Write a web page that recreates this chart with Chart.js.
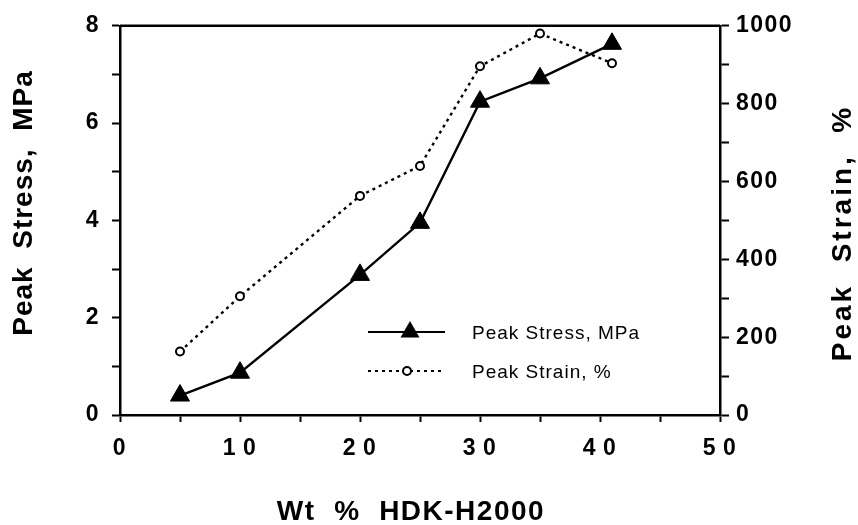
<!DOCTYPE html>
<html>
<head>
<meta charset="utf-8">
<script src="https://cdn.jsdelivr.net/npm/chart.js@4"></script>
<style>
  html, body { margin: 0; padding: 0; background: #fff; }
  #wrap { width: 858px; height: 525px; }
</style>
</head>
<body>
<div id="wrap"><canvas id="c" width="858" height="525"></canvas></div>
<script>
// ---- data ----
const wtPercent   = [5, 10, 20, 25, 30, 35, 41];
const peakStress  = [0.40, 0.87, 2.88, 3.95, 6.44, 6.92, 7.63];   // MPa (left axis)
const peakStrain  = [163, 305, 563, 640, 896, 980, 904];          // % (right axis)
const xTickLabels = ['0', '10', '20', '30', '40', '50'];
const yTickLabels = ['0', '2', '4', '6', '8'];
const y1TickLabels = ['0', '200', '400', '600', '800', '1000'];
const seriesNames = ['Peak Stress, MPa', 'Peak Strain, %'];
const axisTitles  = { x: 'Wt  %  HDK-H2000', y: 'Peak  Stress,  MPa', y1: 'Peak  Strain,  %' };

const FONT = '"Liberation Sans", Arial, Helvetica, sans-serif';

const stressPts = wtPercent.map((x, i) => ({ x: x, y: peakStress[i] }));
const strainPts = wtPercent.map((x, i) => ({ x: x, y: peakStrain[i] }));

const spacingPlugin = {
  id: 'spacing',
  beforeDraw(chart) {
    const ctx = chart.ctx;
    ctx.fillStyle = '#fff';
    ctx.fillRect(0, 0, chart.width, chart.height);
    ctx.letterSpacing = '1.5px';
  },
  afterDraw(chart) {
    const ctx = chart.ctx;
    const a = chart.chartArea;
    ctx.save();
    ctx.letterSpacing = '0px';
    // top frame line
    ctx.strokeStyle = '#000';
    ctx.lineWidth = 2.5;
    ctx.beginPath();
    ctx.moveTo(a.left, a.top);
    ctx.lineTo(a.right, a.top);
    ctx.stroke();

    // axis titles
    ctx.fillStyle = '#000';
    ctx.font = 'bold 28px ' + FONT;
    ctx.textAlign = 'center';
    ctx.textBaseline = 'middle';
    ctx.letterSpacing = '1.5px';
    ctx.fillText(axisTitles.x, 411, 512);
    ctx.save();
    ctx.translate(24, 203);
    ctx.rotate(-Math.PI / 2);
    ctx.letterSpacing = '1px';
    ctx.fillText(axisTitles.y, 0, 0);
    ctx.restore();
    ctx.save();
    ctx.translate(843, 233);
    ctx.rotate(-Math.PI / 2);
    ctx.letterSpacing = '3px';
    ctx.fillText(axisTitles.y1, 0, 0);
    ctx.restore();
    ctx.letterSpacing = '0px';

    // legend
    const lx0 = 368, lx1 = 445;
    const rows = [
      { y: 332, dash: [], marker: 'triangle', mx: 410 },
      { y: 371, dash: [3, 4], marker: 'circle', mx: 407 }
    ];
    rows.forEach((r, i) => {
      ctx.setLineDash(r.dash);
      ctx.lineWidth = 2.2;
      ctx.strokeStyle = '#000';
      ctx.beginPath();
      ctx.moveTo(lx0, r.y);
      ctx.lineTo(lx1, r.y);
      ctx.stroke();
      ctx.setLineDash([]);
      if (r.marker === 'triangle') {
        const rad = 11;
        ctx.fillStyle = '#000';
        ctx.beginPath();
        ctx.moveTo(r.mx, r.y - rad);
        ctx.lineTo(r.mx + rad * 0.866, r.y + rad / 2);
        ctx.lineTo(r.mx - rad * 0.866, r.y + rad / 2);
        ctx.closePath();
        ctx.fill();
      } else {
        ctx.fillStyle = '#fff';
        ctx.lineWidth = 2;
        ctx.beginPath();
        ctx.arc(r.mx, r.y, 4, 0, Math.PI * 2);
        ctx.fill();
        ctx.stroke();
      }
      ctx.fillStyle = '#000';
      ctx.font = '19px ' + FONT;
      ctx.letterSpacing = '1px';
      ctx.textBaseline = 'middle';
      ctx.textAlign = 'left';
      ctx.fillText(seriesNames[i], 472, r.y + 2);
      ctx.letterSpacing = '0px';
    });
    ctx.restore();
  }
};

new Chart(document.getElementById('c'), {
  type: 'scatter',
  data: {
    datasets: [
      {
        label: seriesNames[0],
        data: stressPts,
        yAxisID: 'y',
        showLine: true,
        borderColor: '#000',
        backgroundColor: '#000',
        borderWidth: 2.4,
        pointStyle: 'triangle',
        pointRadius: 11,
        pointBorderWidth: 1,
        tension: 0
      },
      {
        label: seriesNames[1],
        data: strainPts,
        yAxisID: 'y1',
        showLine: true,
        borderColor: '#000',
        backgroundColor: '#fff',
        borderWidth: 2.4,
        borderDash: [3, 4],
        pointStyle: 'circle',
        pointRadius: 4,
        pointBorderWidth: 2,
        tension: 0
      }
    ]
  },
  options: {
    responsive: false,
    animation: false,
    devicePixelRatio: 1,
    layout: { padding: { top: 21, left: 0, right: 0, bottom: 0 } },
    plugins: {
      legend: { display: false },
      tooltip: { enabled: false }
    },
    scales: {
      x: {
        type: 'linear',
        position: 'bottom',
        min: 0, max: 50,
        afterFit(s) { s.height = 110; },
        ticks: {
          stepSize: 5,
          autoSkip: false,
          maxRotation: 0,
          padding: 13,
          color: '#000',
          font: { family: FONT, size: 23, weight: 'bold' },
          callback(v) {
            const s = String(v);
            return xTickLabels.includes(s) ? s.split('').join('\u2009') : '';
          }
        },
        grid: {
          drawOnChartArea: false,
          drawTicks: true,
          tickLength: 7,
          tickWidth: 2,
          tickColor: '#000'
        },
        border: { display: true, color: '#000', width: 2.5 },
        title: { display: false }
      },
      y: {
        type: 'linear',
        position: 'left',
        min: 0, max: 8,
        afterFit(s) { s.width = 120; },
        ticks: {
          stepSize: 1,
          autoSkip: false,
          padding: 12,
          color: '#000',
          font: { family: FONT, size: 23, weight: 'bold' },
          callback(v) { const s = String(v); return yTickLabels.includes(s) ? s : ''; }
        },
        grid: {
          drawOnChartArea: false,
          drawTicks: true,
          tickLength: 8,
          tickWidth: 2,
          tickColor: '#000'
        },
        border: { display: true, color: '#000', width: 2.5 },
        title: { display: false }
      },
      y1: {
        type: 'linear',
        position: 'right',
        min: 0, max: 1000,
        afterFit(s) { s.width = 138; },
        ticks: {
          stepSize: 100,
          autoSkip: false,
          padding: 7,
          color: '#000',
          font: { family: FONT, size: 23, weight: 'bold' },
          callback(v) { const s = String(v); return y1TickLabels.includes(s) ? s : ''; }
        },
        grid: {
          drawOnChartArea: false,
          drawTicks: true,
          tickLength: 9,
          tickWidth: 2,
          tickColor: '#000'
        },
        border: { display: true, color: '#000', width: 2.5 },
        title: { display: false }
      }
    }
  },
  plugins: [spacingPlugin]
});
</script>
</body>
</html>
